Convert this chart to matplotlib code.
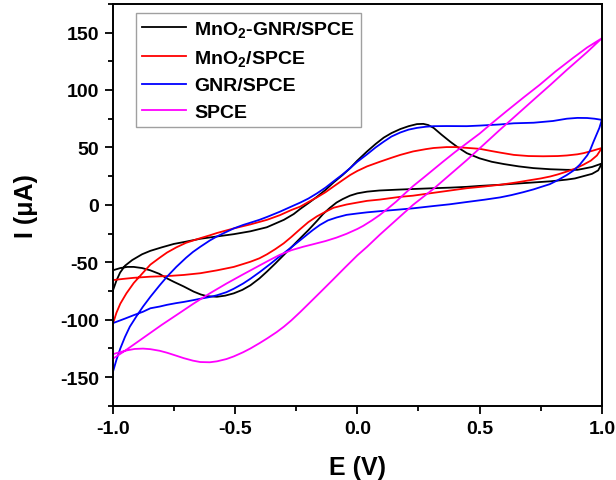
import numpy as np
import matplotlib
matplotlib.use("Agg")
import matplotlib.pyplot as plt
from matplotlib.ticker import MultipleLocator

plt.rcParams['font.family'] = ['Liberation Sans', 'DejaVu Sans']
plt.rcParams['font.weight'] = 'bold'
plt.rcParams['mathtext.fontset'] = 'custom'
plt.rcParams['mathtext.rm'] = 'Liberation Sans:bold'
plt.rcParams['mathtext.bf'] = 'Liberation Sans:bold'
plt.rcParams['mathtext.it'] = 'Liberation Sans:bold'

# ---- data: (E, I) pairs, anodic branch then cathodic branch ----
mno2_gnr_E = [-1.0, -0.985, -0.97, -0.95, -0.92, -0.88, -0.846, -0.80, -0.75, -0.70, -0.642, -0.574, -0.505, -0.437, -0.37,
              -0.30, -0.26, -0.233, -0.20, -0.165, -0.13, -0.097, -0.06, -0.029, 0.0, 0.04, 0.075, 0.108, 0.14, 0.176,
              0.21, 0.244, 0.27, 0.29, 0.312, 0.345, 0.38, 0.415, 0.448, 0.50, 0.55, 0.60, 0.66, 0.72, 0.79, 0.857,
              0.90, 0.925, 0.96, 1.0,
              0.985, 0.96, 0.925, 0.89, 0.857, 0.79, 0.72, 0.65, 0.584, 0.50, 0.448, 0.38, 0.312, 0.228, 0.16, 0.09,
              0.04, 0.0, -0.03, -0.06, -0.085, -0.112, -0.14, -0.165, -0.20, -0.233, -0.27, -0.30, -0.335, -0.369,
              -0.40, -0.437, -0.47, -0.505, -0.54, -0.574, -0.614, -0.64, -0.669, -0.71, -0.75, -0.778, -0.81, -0.846,
              -0.88, -0.914, -0.94, -0.969, -1.0]
mno2_gnr_I = [-75, -66, -59, -53, -48, -43, -40, -37, -34, -32, -29.5, -27.5, -25.5, -23, -19.5,
              -13, -8, -3.5, 1.5, 7, 13, 19.5, 26, 32, 38.5, 46.5, 53, 58.5, 62.5, 66,
              68.5, 70.3, 70.5, 69.5, 67, 61, 55, 49.5, 45, 40.5, 37.5, 35.5, 33.5, 32, 31, 30.5,
              30.5, 31.5, 33, 36,
              30, 27, 25, 23, 22, 20.5, 19.5, 18.5, 17.5, 16.5, 15.7, 15, 14.5, 13.8, 13.2, 12.5,
              11.5, 10, 8, 5, 2, -2.6, -8, -14, -22, -29, -37, -43.5, -51, -58,
              -64, -70, -74, -77, -79, -80, -79.5, -78, -75.5, -71, -67, -64, -60, -57,
              -55, -54, -54, -55, -57]

mno2_E = [-1.0, -0.985, -0.969, -0.944, -0.914, -0.876, -0.846, -0.808, -0.778, -0.74, -0.70, -0.642, -0.603, -0.574,
          -0.505, -0.437, -0.369, -0.317, -0.27, -0.233, -0.20, -0.165, -0.13, -0.097, -0.06, -0.029, 0.0, 0.04,
          0.092, 0.14, 0.176, 0.228, 0.28, 0.312, 0.365, 0.40, 0.448, 0.50, 0.55, 0.584, 0.64, 0.70, 0.76, 0.82,
          0.857, 0.90, 0.925, 0.96, 1.0,
          0.98, 0.955, 0.925, 0.89, 0.857, 0.82, 0.789, 0.75, 0.721, 0.65, 0.584, 0.52, 0.448, 0.38, 0.312, 0.228,
          0.176, 0.092, 0.04, 0.0, -0.044, -0.097, -0.13, -0.165, -0.20, -0.233, -0.27, -0.301, -0.335, -0.369,
          -0.40, -0.437, -0.467, -0.505, -0.574, -0.642, -0.71, -0.778, -0.846, -0.914, -0.96, -1.0]
mno2_I = [-104, -94, -86, -77, -68, -59, -52, -46, -41.5, -37, -33, -29, -26.5, -24.5,
          -20.5, -17, -13, -9, -4.5, -1.5, 2.5, 6.5, 11, 16, 21.5, 26, 29.5, 33.5,
          37.5, 41, 43.5, 46.5, 48.5, 49.5, 50.3, 50.3, 49.6, 48.8, 46.8, 45.5, 43.5, 42.5, 42.3, 42.5,
          43, 44, 45, 47, 49.5,
          43, 38.5, 35, 31.5, 29, 26.5, 24.7, 23, 22, 19.5, 17.5, 16, 14.5, 12.5, 10.5, 8,
          7, 4.6, 3.5, 2, 0.3, -2.5, -6, -10, -15, -21, -28, -33.5, -38.5, -43,
          -46.5, -49.5, -51.5, -54, -57, -59.5, -61, -62, -62.5, -63.5, -64.5, -65.5]

gnr_E = [-1.0, -0.985, -0.969, -0.95, -0.93, -0.90, -0.876, -0.846, -0.808, -0.778, -0.74, -0.70, -0.672, -0.642,
         -0.603, -0.574, -0.54, -0.505, -0.467, -0.437, -0.40, -0.369, -0.317, -0.27, -0.233, -0.20, -0.165, -0.13,
         -0.097, -0.06, -0.029, 0.0, 0.04, 0.075, 0.108, 0.14, 0.176, 0.21, 0.244, 0.28, 0.312, 0.365, 0.448, 0.50,
         0.584, 0.64, 0.721, 0.80, 0.857, 0.90, 0.94, 0.97, 1.0,
         0.99, 0.978, 0.966, 0.951, 0.94, 0.925, 0.91, 0.885, 0.857, 0.82, 0.787, 0.75, 0.721, 0.678, 0.63, 0.584,
         0.52, 0.448, 0.378, 0.312, 0.228, 0.176, 0.092, 0.04, 0.0, -0.044, -0.085, -0.12, -0.153, -0.181, -0.20,
         -0.222, -0.27, -0.317, -0.358, -0.399, -0.437, -0.467, -0.505, -0.535, -0.574, -0.603, -0.642, -0.672,
         -0.71, -0.74, -0.778, -0.808, -0.846, -0.876, -0.914, -0.95, -1.0]
gnr_I = [-146, -135, -125, -115, -106, -96, -88.5, -80, -70, -62.5, -54, -46, -41, -36.5,
         -31, -27.5, -24, -20.5, -17.5, -15.5, -13, -10.5, -6, -1.5, 2, 5.5, 10, 15,
         20.5, 26.5, 32, 37.5, 44, 50, 55, 59.5, 63, 65.5, 67, 68, 68.5, 68.6, 68.5, 69,
         70, 71, 71.5, 73, 75, 75.7, 75.6, 75, 74,
         67, 61, 55, 47, 43, 39, 35, 30, 26, 21.5, 18, 15.5, 13.5, 11, 8.5, 6.5,
         4.5, 2.5, 0.5, -1, -3, -4, -5.5, -6.5, -7.5, -8.7, -11, -13.5, -17.5, -21.8, -25,
         -28.8, -37, -44.8, -51.8, -58.5, -64.3, -68.5, -73, -76, -78.7, -80.2, -81.7, -83,
         -84.5, -85.5, -87, -88.5, -90, -93, -96, -99, -103]

spce_E = [-1.0, -0.95, -0.90, -0.85, -0.80, -0.74, -0.67, -0.603, -0.535, -0.467, -0.40, -0.358, -0.317, -0.27,
          -0.222, -0.181, -0.13, -0.085, -0.044, 0.0, 0.024, 0.06, 0.092, 0.125, 0.16, 0.19, 0.228, 0.27, 0.31,
          0.35, 0.40, 0.45, 0.50, 0.55, 0.61, 0.68, 0.746, 0.81, 0.883, 0.94, 1.0,
          0.94, 0.857, 0.79, 0.721, 0.65, 0.584, 0.52, 0.448, 0.38, 0.312, 0.228, 0.16, 0.092, 0.04, 0.0, -0.05,
          -0.099, -0.15, -0.20, -0.233, -0.27, -0.30, -0.33, -0.369, -0.40, -0.437, -0.467, -0.505, -0.535, -0.574,
          -0.603, -0.642, -0.672, -0.71, -0.74, -0.778, -0.808, -0.846, -0.876, -0.91, -0.941, -0.97, -1.0]
spce_I = [-134, -127, -119.5, -112, -104.5, -96, -86, -77, -68.5, -60.5, -52.8, -48, -43.5, -39.5,
          -36.5, -34.3, -31.5, -28.5, -25.2, -21, -18.3, -13.5, -8.8, -3.2, 3, 9, 16.3, 23.5, 30.5,
          37.5, 46, 54, 62, 71, 81.5, 93.5, 104.5, 116, 128, 137, 145,
          133, 117.5, 104.5, 91.5, 78, 65.5, 53, 39, 26.5, 14, 0, -13, -26, -36.5, -44, -54.5,
          -65, -75.8, -86.3, -93.2, -100.6, -106, -110.8, -116.3, -120.4, -125, -128.3, -131.9, -134.2, -136.2,
          -137, -136.8, -135.6, -133.4, -131.3, -128.7, -127, -125.6, -125.1, -125.4, -126.6, -128.2, -130]

series = [
    (r'MnO$_\mathbf{2}$-GNR/SPCE', mno2_gnr_E, mno2_gnr_I, '#000000'),
    (r'MnO$_\mathbf{2}$/SPCE', mno2_E, mno2_I, '#ff0000'),
    ('GNR/SPCE', gnr_E, gnr_I, '#0000ff'),
    ('SPCE', spce_E, spce_I, '#ff00ff'),
]

fig = plt.figure(figsize=(6.16, 4.81), dpi=100)
ax = fig.add_axes([0.183, 0.154, 0.794, 0.836])

for label, E, I, c in series:
    ax.plot(E, I, color=c, lw=1.3, label=label)

ax.set_xlim(-1.0, 1.0)
ax.set_ylim(-175, 175)
ax.xaxis.set_minor_locator(MultipleLocator(0.25))
ax.yaxis.set_minor_locator(MultipleLocator(25))
ax.set_xticks([-1.0, -0.5, 0.0, 0.5, 1.0])
ax.set_xticklabels(['-1.0', '-0.5', '0.0', '0.5', '1.0'])
ax.set_yticks([-150, -100, -50, 0, 50, 100, 150])
ax.set_yticklabels(['-150', '-100', '-50', '0', '50', '100', '150'])
ax.tick_params(which='major', direction='out', length=6, width=1.3, labelsize=14, pad=4)
ax.tick_params(which='minor', direction='out', length=3.5, width=1.3)
for lab in ax.get_xticklabels() + ax.get_yticklabels():
    lab.set_fontweight('bold')
for s in ax.spines.values():
    s.set_linewidth(1.4)

ax.set_xlabel('E (V)', fontsize=18, fontweight='bold', labelpad=13)
ax.set_ylabel('I (\u03bcA)', fontsize=18, fontweight='bold', labelpad=16)

leg = ax.legend(loc='upper left', bbox_to_anchor=(0.047, 0.976), borderaxespad=0,
                frameon=True, fancybox=False, edgecolor='#888888',
                handlelength=2.3, handletextpad=0.4, labelspacing=0.45, borderpad=0.3,
                prop={'weight': 'bold', 'size': 14})
leg.get_frame().set_linewidth(1.0)

fig.savefig('out.png', dpi=100)
